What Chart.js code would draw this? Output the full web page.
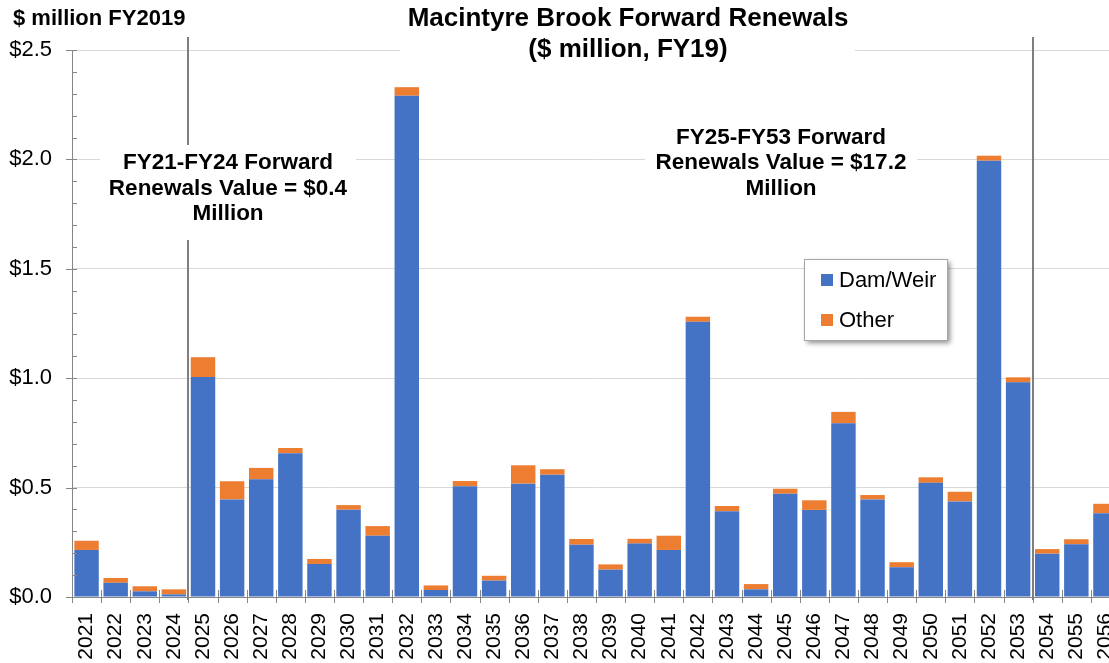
<!DOCTYPE html>
<html>
<head>
<meta charset="utf-8">
<script src="https://cdn.jsdelivr.net/npm/chart.js@4.4.0/dist/chart.umd.min.js"></script>
<style>
  html, body { margin: 0; padding: 0; background: #fff; overflow: hidden; }
  #wrap { width: 1109px; height: 663px; overflow: hidden; }
</style>
</head>
<body>
<div id="wrap"><canvas id="renewals" width="1120" height="663"></canvas></div>
<script>
// Datos (millones de $, FY19)
const years = [
  "2021", "2022", "2023", "2024", "2025", "2026", "2027", "2028", "2029", "2030",
  "2031", "2032", "2033", "2034", "2035", "2036", "2037", "2038", "2039", "2040",
  "2041", "2042", "2043", "2044", "2045", "2046", "2047", "2048", "2049", "2050",
  "2051", "2052", "2053", "2054", "2055", "2056",
];
const damWeir = [
  0.215, 0.065, 0.026, 0.012, 1.005, 0.446, 0.538, 0.657, 0.151, 0.399,
  0.280, 2.291, 0.032, 0.506, 0.075, 0.518, 0.559, 0.239, 0.125, 0.244,
  0.215, 1.258, 0.392, 0.035, 0.472, 0.398, 0.794, 0.446, 0.136, 0.522,
  0.437, 1.994, 0.981, 0.198, 0.241, 0.383,
];
const other = [
  0.042, 0.022, 0.023, 0.023, 0.091, 0.083, 0.052, 0.024, 0.023, 0.021,
  0.044, 0.039, 0.021, 0.024, 0.022, 0.084, 0.025, 0.026, 0.024, 0.022,
  0.065, 0.023, 0.024, 0.024, 0.023, 0.044, 0.052, 0.020, 0.023, 0.025,
  0.044, 0.023, 0.023, 0.021, 0.023, 0.043,
];
const seriesNames = ["Dam/Weir", "Other"];
const seriesColors = ["#4472c4", "#ed7d31"];

// Textos
const axisTitle = "$ million FY2019";
const titleLines = ["Macintyre Brook Forward Renewals", "($ million, FY19)"];
const note1 = ["FY21-FY24 Forward", "Renewals Value = $0.4", "Million"];
const note2 = ["FY25-FY53 Forward", "Renewals Value = $17.2", "Million"];
const periodBreaks = ["2025", "2054"];

const FONT = '"Liberation Sans", Arial, sans-serif';
Chart.defaults.font.family = FONT;
Chart.defaults.color = "#000";

/* Dibuja titulo, notas, lineas de periodo, marcas del eje y leyenda */
const extras = {
  id: "extras",
  afterDraw(chart) {
    const { ctx, chartArea: a, scales: { x, y } } = chart;
    const step = x.getPixelForValue(1) - x.getPixelForValue(0);
    ctx.save();

    // marcas de los ejes
    ctx.strokeStyle = "#868686";
    ctx.lineWidth = 1;
    ctx.beginPath();
    for (let v = 0; v <= 25; v++) {
      const py = Math.round(y.getPixelForValue(v / 10)) + 0.5;
      ctx.moveTo(v % 5 === 0 ? a.left - 6 : a.left, py);
      ctx.lineTo(a.left + 5, py);
    }
    for (let i = 0; i <= years.length; i++) {
      const px = Math.round(x.getPixelForValue(i) - step / 2) + 0.5;
      ctx.moveTo(px, a.bottom - 7);
      ctx.lineTo(px, a.bottom + 6);
    }
    ctx.stroke();

    // lineas de periodo
    ctx.strokeStyle = "#7f7f7f";
    ctx.lineWidth = 2;
    periodBreaks.forEach((yr) => {
      const px = Math.round(x.getPixelForValue(years.indexOf(yr)) - step / 2);
      ctx.beginPath();
      ctx.moveTo(px, 37);
      ctx.lineTo(px, a.bottom + 3);
      ctx.stroke();
    });

    // bloques de texto con fondo blanco
    const block = (lines, cx, y0, lh, size, box) => {
      ctx.fillStyle = "#fff";
      ctx.fillRect(box[0], box[1], box[2] - box[0], box[3] - box[1]);
      ctx.fillStyle = "#000";
      ctx.font = "bold " + size + "px " + FONT;
      ctx.textAlign = "center";
      ctx.textBaseline = "middle";
      lines.forEach((t, i) => ctx.fillText(t, cx, y0 + i * lh));
    };
    block(titleLines, 628, 19, 31, 26, [400, 4, 855, 64]);
    block(note1, 228, 163, 25.5, 22.5, [100, 145, 356, 240]);
    block(note2, 781, 137.5, 25.5, 22.5, [645, 120, 917, 205]);

    ctx.font = "bold 22px " + FONT;
    ctx.textAlign = "left";
    ctx.fillText(axisTitle, 13, 19);

    // leyenda
    const lg = { x: 804, y: 259, w: 143, h: 81 };
    ctx.save();
    ctx.shadowColor = "rgba(0,0,0,0.45)";
    ctx.shadowBlur = 5;
    ctx.shadowOffsetX = 3;
    ctx.shadowOffsetY = 3;
    ctx.fillStyle = "#fff";
    ctx.fillRect(lg.x, lg.y, lg.w, lg.h);
    ctx.restore();
    ctx.strokeStyle = "#a6a6a6";
    ctx.lineWidth = 1;
    ctx.strokeRect(lg.x + 0.5, lg.y + 0.5, lg.w, lg.h);
    ctx.font = "22px " + FONT;
    chart.data.datasets.forEach((ds, i) => {
      const cy = 280 + i * 40;
      ctx.fillStyle = ds.backgroundColor;
      ctx.fillRect(821, cy - 6, 12, 12);
      ctx.fillStyle = "#000";
      ctx.fillText(ds.label, 839, cy + 1);
    });
    ctx.restore();
  },
};

const ctx = document.getElementById("renewals").getContext("2d");

new Chart(ctx, {
  type: "bar",
  plugins: [extras],
  data: {
    labels: years,
    datasets: [damWeir, other].map((d, i) => ({
      label: seriesNames[i],
      data: d,
      backgroundColor: seriesColors[i],
      barPercentage: 0.84,
      categoryPercentage: 1,
    })),
  },
  options: {
    responsive: false,
    animation: false,
    layout: { padding: { top: 50, left: 0, right: 0, bottom: 0 } },
    plugins: {
      legend: { display: false },
      tooltip: { enabled: false },
    },
    scales: {
      x: {
        stacked: true,
        grid: { display: false, drawTicks: false },
        border: { color: "#868686", width: 1 },
        ticks: {
          minRotation: 90,
          maxRotation: 90,
          padding: 16,
          color: "#000",
          font: { size: 21 },
        },
        afterFit: (s) => {
          s.height = 66;
          s.paddingLeft = 0;
          s.paddingRight = 0;
        },
      },
      y: {
        stacked: true,
        min: 0,
        max: 2.5,
        grid: { color: "#d9d9d9", lineWidth: 1, drawTicks: false },
        border: { color: "#868686", width: 1 },
        ticks: {
          stepSize: 0.5,
          padding: 20,
          color: "#000",
          font: { size: 22 },
          callback: (v) => "$" + Number(v).toFixed(1),
        },
        afterFit: (s) => { s.width = 72; },
      },
    },
  },
});
</script>
</body>
</html>
